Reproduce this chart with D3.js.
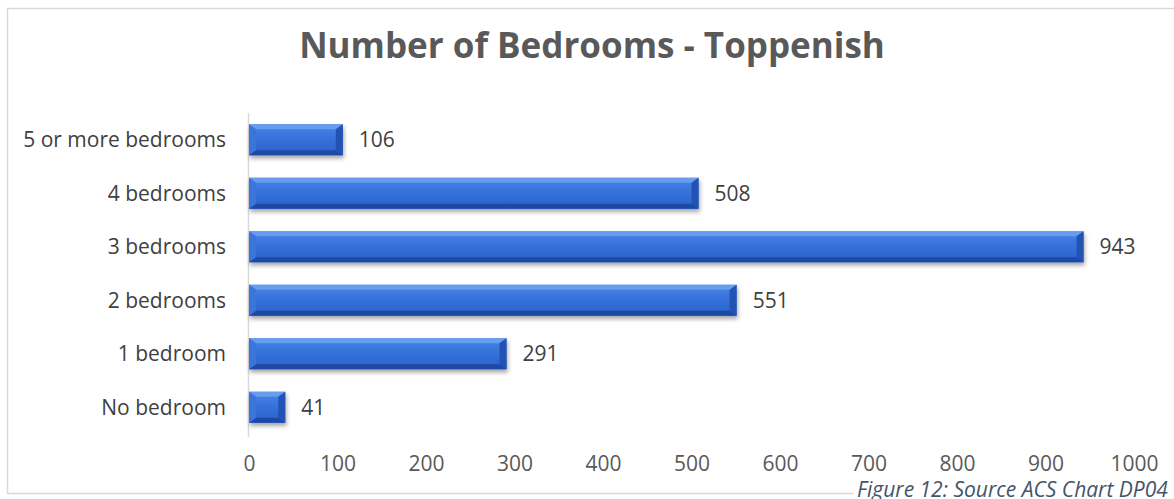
<!DOCTYPE html>
<html>
<head>
<meta charset="utf-8">
<script src="https://cdn.jsdelivr.net/npm/d3@7"></script>
<style>
  html, body { margin: 0; padding: 0; background: #fff; }
  svg { display: block; }
  text { font-family: "Open Sans", "Noto Sans", sans-serif; }
</style>
</head>
<body>
<svg id="chart" width="1174" height="499"></svg>
<script>
// Housing units by number of bedrooms
const categories = ["5 or more bedrooms", "4 bedrooms", "3 bedrooms", "2 bedrooms", "1 bedroom", "No bedroom"];
const values = [106, 508, 943, 551, 291, 41];
const xTicks = [0, 100, 200, 300, 400, 500, 600, 700, 800, 900, 1000];
const titleText = "Number of Bedrooms - Toppenish";
const captionText = "Figure 12: Source ACS Chart DP04";

const svg = d3.select("#chart");
const W = 1174, H = 499;
const plot = { left: 249, right: 1134, top: 113, bottom: 434 };

const x = d3.scaleLinear().domain([0, 1000]).range([plot.left, plot.right]);
const y = d3.scaleBand().domain(categories).range([plot.top, plot.bottom]).paddingInner(0.42).paddingOuter(0.21);

const defs = svg.append("defs");
const grad = defs.append("linearGradient").attr("id", "barFace").attr("x1", 0).attr("y1", 0).attr("x2", 0).attr("y2", 1);
grad.append("stop").attr("offset", "0%").attr("stop-color", "#4a86e6");
grad.append("stop").attr("offset", "45%").attr("stop-color", "#3672dc");
grad.append("stop").attr("offset", "100%").attr("stop-color", "#2a60c8");
const shadow = defs.append("filter").attr("id", "barShadow").attr("x", "-10%").attr("y", "-30%").attr("width", "130%").attr("height", "190%");
shadow.append("feDropShadow").attr("dx", 1).attr("dy", 3).attr("stdDeviation", 2.2).attr("flood-color", "#000").attr("flood-opacity", 0.35);

// outer frame
svg.append("rect").attr("x", 7.5).attr("y", 8.5).attr("width", W + 10).attr("height", 485)
  .attr("fill", "#fff").attr("stroke", "#d9d9d9").attr("stroke-width", 1.5);

// title
svg.append("text").attr("x", 592).attr("y", 58).attr("text-anchor", "middle")
  .attr("font-size", 35).attr("font-weight", 700).attr("fill", "#595959").text(titleText);

// category axis line
svg.append("line").attr("x1", plot.left - 0.5).attr("x2", plot.left - 0.5)
  .attr("y1", plot.top).attr("y2", plot.bottom + 3).attr("stroke", "#d9d9d9").attr("stroke-width", 1.5);

// category labels
svg.append("g").selectAll("text").data(categories).join("text")
  .attr("x", 226).attr("y", d => y(d) + y.bandwidth() / 2)
  .attr("dy", "0.35em").attr("text-anchor", "end")
  .attr("font-size", 21).attr("fill", "#404040").text(d => d);

// value axis tick labels
const xAxis = d3.axisBottom(x).tickValues(xTicks).tickSize(0).tickPadding(0).tickFormat(d3.format("d"));
const gx = svg.append("g").attr("transform", `translate(0, 456)`).call(xAxis);
gx.select(".domain").remove();
gx.selectAll("text").attr("font-size", 21).attr("fill", "#595959")
  .style("font-family", "\"Open Sans\", sans-serif").attr("dy", "0.71em");

// beveled bars
const bev = 7;
const bars = svg.append("g").selectAll("g").data(categories.map((c, i) => ({ c, v: values[i] }))).join("g")
  .attr("filter", "url(#barShadow)");
bars.each(function (d) {
  const g = d3.select(this);
  const x0 = x(0), x1 = x(d.v), y0 = y(d.c), y1 = y0 + y.bandwidth();
  const b = Math.min(bev, (x1 - x0) / 2);
  g.append("rect").attr("x", x0).attr("y", y0).attr("width", x1 - x0).attr("height", y1 - y0).attr("fill", "url(#barFace)");
  // top edge (light)
  g.append("path").attr("d", `M${x0},${y0}L${x1},${y0}L${x1 - b},${y0 + 5}L${x0 + b},${y0 + 5}Z`).attr("fill", "#6a9ff0").attr("opacity", 0.9);
  // bottom edge (dark)
  g.append("path").attr("d", `M${x0},${y1}L${x1},${y1}L${x1 - b},${y1 - 5}L${x0 + b},${y1 - 5}Z`).attr("fill", "#1d4aa6");
  // right edge (dark)
  g.append("path").attr("d", `M${x1},${y0}L${x1},${y1}L${x1 - b},${y1 - 5}L${x1 - b},${y0 + 5}Z`).attr("fill", "#2152b4");
  // left edge
  g.append("path").attr("d", `M${x0},${y0}L${x0},${y1}L${x0 + b},${y1 - 5}L${x0 + b},${y0 + 5}Z`).attr("fill", "#3a74da");
});

// value labels
svg.append("g").selectAll("text").data(values).join("text")
  .attr("x", d => x(d) + 16).attr("y", (d, i) => y(categories[i]) + y.bandwidth() / 2)
  .attr("dy", "0.35em").attr("font-size", 21).attr("fill", "#404040").text(d => d);

// caption over the bottom frame edge
svg.append("rect").attr("x", 853).attr("y", 478).attr("width", 330).attr("height", 22).attr("fill", "#fff");
svg.append("text").attr("x", 857).attr("y", 497).attr("font-size", 21).attr("font-style", "italic")
  .attr("fill", "#44546a").text(captionText);
</script>
</body>
</html>
